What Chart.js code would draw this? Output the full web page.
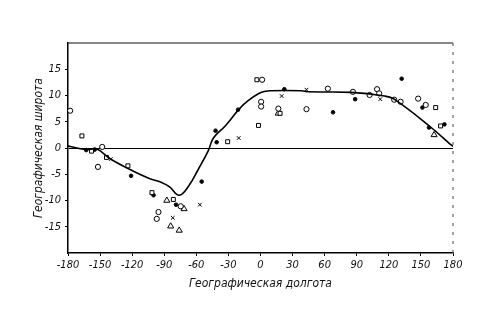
<!DOCTYPE html>
<html>
<head>
<meta charset="utf-8">
<script src="https://cdn.jsdelivr.net/npm/chart.js@4"></script>
<style>
  body { margin: 0; background: #fff; }
  #wrap { width: 496px; height: 331px; }
</style>
</head>
<body>
<div id="wrap"><canvas id="c"></canvas></div>
<script>
// curve (longitude, latitude)
const curveLon = [-180, -178, -163, -153, -141, -123, -104, -92, -85, -76, -67, -58, -49, -44, -33, -20, -11, 1, 10, 38, 45, 85, 116, 125, 159, 177, 180];
const curveLat = [0.4, 0.3, -0.3, -0.2, -2, -4, -5.8, -6.6, -7.4, -9, -7.2, -4, -0.6, 1.9, 4.2, 7.4, 9.1, 10.6, 10.9, 10.9, 10.7, 10.6, 9.9, 9.3, 4, 0.8, 0.3];

const circleLon = [-178, -148, -152, -74.6, -95.4, -97, 0.6, 0.6, 16.7, 43, 63, 86.4, 102, 109, 111, 125, 131, 147.4, 154.5, 1.5];
const circleLat = [7.1, 0.2, -3.6, -11.1, -12.2, -13.5, 8.8, 7.9, 7.5, 7.4, 11.3, 10.7, 10.1, 11.2, 10.4, 9.2, 8.8, 9.4, 8.2, 13];

const squareLon = [-158, -167, -124, -101.5, -81.5, -30.7, -1.9, 18.3, -3.4, 163.8, 168.4, -144];
const squareLat = [-0.6, 2.3, -3.4, -8.5, -9.8, 1.2, 4.3, 6.6, 13, 7.7, 4.2, -1.8];

const triangleLon = [-87.6, -71.5, -84, -76, 162.3, 16.5];
const triangleLat = [-10, -11.6, -14.9, -15.7, 2.5, 6.6];

const dotLon = [-163, -121, -100, -79, -55, -21, -42, -41, 22.3, 67.8, 88.5, 132, 151.4, 157.6, 172, -155];
const dotLat = [-0.4, -5.3, -9, -10.8, -6.4, 7.3, 3.3, 1.1, 11.2, 6.8, 9.3, 13.2, 7.7, 3.9, 4.5, -0.3];

const crossLon = [-82, -56.7, -20.4, 19.8, 43, 112, -140];
const crossLat = [-13.3, -10.8, 1.9, 9.9, 11.1, 9.3, -2.1];

const xTicks = [-180, -150, -120, -90, -60, -30, 0, 30, 60, 90, 120, 150, 180];
const yTicks = [-15, -10, -5, 0, 5, 10, 15];

function pts(xs, ys) { return xs.map((x, i) => ({ x: x, y: ys[i] })); }

const frame = {
  id: 'frame',
  afterDatasetsDraw(chart) {
    const a = chart.chartArea, ctx = chart.ctx;
    ctx.save();
    ctx.strokeStyle = '#111';
    ctx.lineWidth = 1.2;
    ctx.beginPath();
    ctx.moveTo(a.left, a.top);
    ctx.lineTo(a.right, a.top);
    ctx.stroke();
    ctx.setLineDash([3, 6]);
    ctx.strokeStyle = '#666';
    ctx.beginPath();
    ctx.moveTo(a.right, a.top);
    ctx.lineTo(a.right, a.bottom);
    ctx.stroke();
    ctx.restore();
  }
};

const font = { family: "'Liberation Sans Narrow', 'DejaVu Sans Condensed', sans-serif", style: 'italic', size: 11 };

new Chart(document.getElementById('c'), {
  type: 'scatter',
  data: {
    datasets: [
      { data: pts(curveLon, curveLat), showLine: true, tension: 0.4, borderColor: '#000', borderWidth: 1.6, pointRadius: 0, order: 0 },
      { data: pts(circleLon, circleLat), pointStyle: 'circle', pointRadius: 2.6, borderColor: '#000', borderWidth: 1, backgroundColor: '#fff' },
      { data: pts(squareLon, squareLat), pointStyle: 'rect', pointRadius: 2.8, borderColor: '#000', borderWidth: 1, backgroundColor: '#fff' },
      { data: pts(triangleLon, triangleLat), pointStyle: 'triangle', pointRadius: 3.5, borderColor: '#000', borderWidth: 1, backgroundColor: '#fff' },
      { data: pts(dotLon, dotLat), pointStyle: 'circle', pointRadius: 1.8, borderColor: '#000', borderWidth: 1, backgroundColor: '#000' },
      { data: pts(crossLon, crossLat), pointStyle: 'crossRot', pointRadius: 2.6, borderColor: '#000', borderWidth: 1 }
    ]
  },
  options: {
    responsive: true,
    maintainAspectRatio: false,
    animation: false,
    layout: { padding: { left: 28, right: 43, top: 43, bottom: 40 } },
    plugins: { legend: { display: false }, tooltip: { enabled: false } },
    scales: {
      x: {
        type: 'linear', min: -180, max: 180,
        afterBuildTicks: s => { s.ticks = xTicks.map(v => ({ value: v })); },
        afterFit: s => { s.height = 38; },
        grid: { drawOnChartArea: false, tickLength: 3, tickColor: '#000' },
        border: { color: '#000', width: 1.5 },
        ticks: { color: '#111', font: font, padding: 3, maxRotation: 0 },
        title: { display: true, text: 'Географическая долгота', color: '#111', font: { ...font, size: 12 }, padding: { top: 0, bottom: 0 } }
      },
      y: {
        type: 'linear', min: -20, max: 20,
        afterBuildTicks: s => { s.ticks = yTicks.map(v => ({ value: v })); },
        afterFit: s => { s.width = 40; },
        grid: {
          color: c => c.tick && c.tick.value === 0 ? '#000' : 'rgba(0,0,0,0)',
          lineWidth: 1, tickLength: 3, tickColor: '#000'
        },
        border: { color: '#000', width: 1.5 },
        ticks: { color: '#111', font: font, padding: 4 },
        title: { display: true, text: 'Географическая широта', color: '#111', font: { ...font, size: 12 }, padding: { bottom: 2 } }
      }
    }
  },
  plugins: [frame]
});
</script>
</body>
</html>
